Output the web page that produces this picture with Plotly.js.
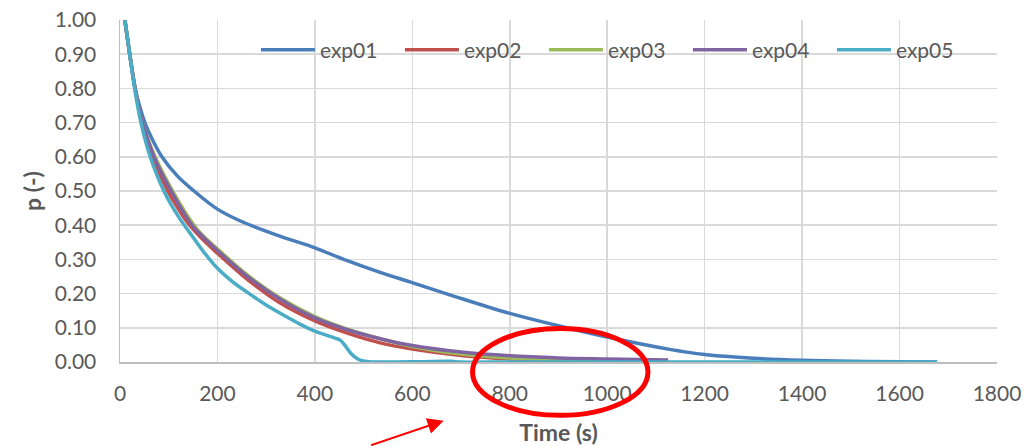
<!DOCTYPE html>
<html>
<head>
<meta charset="utf-8">
<script src="https://cdn.plot.ly/plotly-3.0.1.min.js"></script>
<style>html,body{margin:0;padding:0;background:#fff;}#chart{width:1025px;height:446px;}</style>
</head>
<body>
<div id="chart"></div>
<script>
// Series names and colours
const seriesNames = ["exp01", "exp02", "exp03", "exp04", "exp05"];
const seriesColors = ["#4A7EBB", "#C0504D", "#9BBB59", "#8064A2", "#4BACC6"];

// exp01
const exp01X = [10, 20, 31, 40, 51, 66, 86, 117, 152, 200, 246, 328, 400, 465, 534, 600, 680, 800, 900, 1000, 1128, 1200, 1300, 1400, 1500, 1600, 1677];
const exp01Y = [1.0, 0.90, 0.80, 0.75, 0.70, 0.652, 0.60, 0.545, 0.50, 0.447, 0.413, 0.368, 0.334, 0.297, 0.262, 0.232, 0.195, 0.142, 0.106, 0.073, 0.037, 0.022, 0.011, 0.005, 0.002, 0.001, 0.0];

// exp02
const exp02X = [10, 20, 31, 45, 67, 98, 120, 140, 170, 200, 260, 328, 400, 465, 534, 600, 700, 800, 900, 1000, 1125];
const exp02Y = [1.0, 0.90, 0.80, 0.70, 0.60, 0.50, 0.447, 0.405, 0.358, 0.318, 0.243, 0.173, 0.12, 0.085, 0.056, 0.038, 0.019, 0.009, 0.005, 0.003, 0.001];

// exp03
const exp03X = [10, 20, 31, 46, 72, 108, 152, 170, 200, 260, 328, 400, 465, 534, 600, 700, 800, 900, 1000, 1125];
const exp03Y = [1.0, 0.90, 0.80, 0.70, 0.60, 0.50, 0.40, 0.37, 0.331, 0.256, 0.188, 0.133, 0.097, 0.068, 0.045, 0.023, 0.012, 0.007, 0.004, 0.002];

// exp04
const exp04X = [10, 20, 31, 46, 70, 105, 148, 170, 200, 260, 328, 400, 465, 534, 600, 700, 800, 900, 1000, 1125];
const exp04Y = [1.0, 0.90, 0.80, 0.70, 0.60, 0.50, 0.40, 0.366, 0.326, 0.252, 0.184, 0.129, 0.095, 0.068, 0.048, 0.029, 0.018, 0.012, 0.009, 0.006];

// exp05
const exp05X = [10, 20, 30, 43, 62, 90, 120, 150, 175, 200, 230, 260, 295, 328, 365, 400, 441, 452, 462, 474, 488, 502, 520, 560, 620, 680, 700, 800, 1000, 1200, 1400, 1677];
const exp05Y = [1.0, 0.90, 0.80, 0.70, 0.60, 0.50, 0.425, 0.365, 0.316, 0.274, 0.236, 0.205, 0.171, 0.143, 0.114, 0.09, 0.07, 0.064, 0.048, 0.025, 0.009, 0.002, 0.0, 0.0, 0.001, 0.002, 0.0, 0.0, 0.0, 0.0, 0.0, 0.0];

// Axis ticks
const xTicks = [0, 200, 400, 600, 800, 1000, 1200, 1400, 1600, 1800];
const yTicks = [0, 0.1, 0.2, 0.3, 0.4, 0.5, 0.6, 0.7, 0.8, 0.9, 1.0];

const xs = [exp01X, exp02X, exp03X, exp04X, exp05X];
const ys = [exp01Y, exp02Y, exp03Y, exp04Y, exp05Y];

const FONT = "Lato, 'Open Sans', sans-serif";
const TXT = "#595959";

const traces = seriesNames.map((n, i) => ({
  type: "scatter",
  mode: "lines",
  name: n,
  x: xs[i],
  y: ys[i],
  line: { color: seriesColors[i], width: 3.5, shape: "spline", smoothing: 1 },
  hoverinfo: "skip"
}));

const layout = {
  width: 1025,
  height: 446,
  margin: { l: 120, r: 28, t: 20, b: 84 },
  paper_bgcolor: "#fff",
  plot_bgcolor: "#fff",
  font: { family: FONT, size: 21, color: TXT },
  showlegend: true,
  legend: {
    orientation: "h",
    x: 0.155, xanchor: "left",
    y: 0.912, yanchor: "middle",
    bgcolor: "rgba(0,0,0,0)",
    font: { family: FONT, size: 21, color: TXT },
    entrywidth: 75, entrywidthmode: "pixels",
    itemwidth: 54,
    tracegroupgap: 0
  },
  xaxis: {
    range: [0, 1800],
    tickvals: xTicks,
    ticktext: xTicks.map(v => String(v)),
    showgrid: true, gridcolor: "#d9d9d9", gridwidth: 1.5,
    zeroline: false,
    showline: true, linecolor: "#bfbfbf", linewidth: 1.5,
    ticks: "",
    ticklabelstandoff: 12,
    tickfont: { family: FONT, size: 21, color: TXT },
    title: { text: "Time (s)", font: { family: FONT, size: 23, color: TXT, weight: "bold" }, standoff: 21 },
    automargin: false,
    fixedrange: true
  },
  yaxis: {
    range: [0, 1],
    tickvals: yTicks,
    tickformat: ".2f",
    showgrid: true, gridcolor: "#d9d9d9", gridwidth: 1.5,
    zeroline: false,
    showline: true, linecolor: "#bfbfbf", linewidth: 1.5,
    ticks: "",
    ticklabelstandoff: 18,
    tickfont: { family: FONT, size: 21, color: TXT },
    title: { text: "p (-)", font: { family: FONT, size: 23, color: TXT, weight: "bold" }, standoff: 6 },
    automargin: false,
    fixedrange: true
  },
  shapes: [{
    type: "circle",
    xref: "paper", yref: "paper",
    x0: 0.402, x1: 0.602, y0: -0.156, y1: 0.098,
    line: { color: "#FF0000", width: 5 },
    layer: "above"
  }],
  annotations: [{
    xref: "paper", yref: "paper",
    x: 0.369, y: -0.1716,
    text: "",
    showarrow: true,
    arrowhead: 2, arrowsize: 1.6, arrowwidth: 2,
    arrowcolor: "#FF0000",
    ax: -74, ay: 25
  }]
};

Plotly.newPlot("chart", traces, layout, { displayModeBar: false, staticPlot: true });
</script>
</body>
</html>
